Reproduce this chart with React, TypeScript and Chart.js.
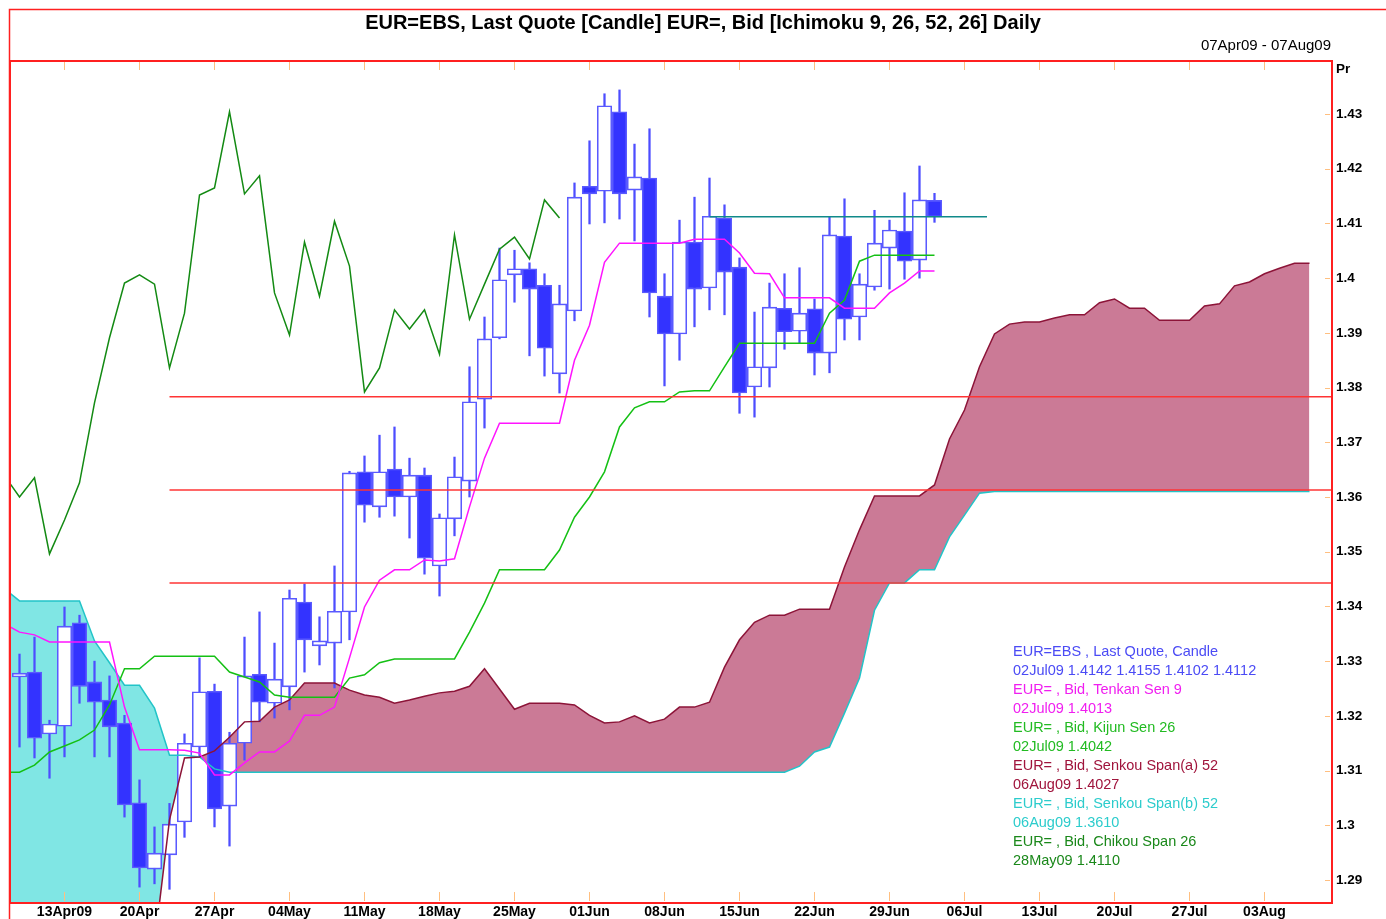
import React, { useEffect, useRef } from "react";
import { Chart, registerables } from "chart.js";

Chart.register(...registerables);

const W = 1386;
const H = 919;
const FONT = '"Liberation Sans", Arial, sans-serif';

// ---- x axis (trading-day index, 0 = 07Apr09) ----
const xTickIdx = [4, 9, 14, 19, 24, 29, 34, 39, 44, 49, 54, 59, 64, 69, 74, 79, 84];
const xTickLabels = [
  "13Apr09", "20Apr", "27Apr", "04May", "11May", "18May", "25May", "01Jun",
  "08Jun", "15Jun", "22Jun", "29Jun", "06Jul", "13Jul", "20Jul", "27Jul", "03Aug",
];
const yTicks = [1.29, 1.3, 1.31, 1.32, 1.33, 1.34, 1.35, 1.36, 1.37, 1.38, 1.39, 1.4, 1.41, 1.42, 1.43];

// ---- candles (first candle at index 1 = 08Apr09) ----
const candleStart = 1;
const opens = [
  1.3271, 1.3280, 1.3167, 1.3181, 1.3370, 1.3262, 1.3229, 1.3187, 1.3041, 1.2920,
  1.2946, 1.3006, 1.3143, 1.3245, 1.3035, 1.3150, 1.3276, 1.3223, 1.3253, 1.3408,
  1.3328, 1.3333, 1.3390, 1.3646, 1.3582, 1.3651, 1.3600, 1.3640, 1.3474, 1.3560,
  1.3629, 1.3779, 1.3891, 1.4006, 1.4017, 1.3987, 1.3825, 1.3940, 1.4168, 1.4159,
  1.4304, 1.4161, 1.4183, 1.3967, 1.3898, 1.4066, 1.3982, 1.4110, 1.4020, 1.3801,
  1.3836, 1.3945, 1.3903, 1.3944, 1.3863, 1.4077, 1.3929, 1.3984, 1.4055, 1.4086,
  1.4033, 1.4142,
];
const highs = [
  1.3313, 1.3344, 1.3192, 1.3399, 1.3384, 1.3300, 1.3273, 1.3201, 1.3083, 1.2997,
  1.3040, 1.3167, 1.3306, 1.3258, 1.3170, 1.3344, 1.3390, 1.3333, 1.3430, 1.3441,
  1.3381, 1.3474, 1.3647, 1.3675, 1.3713, 1.3728, 1.3671, 1.3653, 1.3569, 1.3673,
  1.3838, 1.3929, 1.4055, 1.4051, 1.4028, 1.4008, 1.3987, 1.4174, 1.4251, 1.4337,
  1.4344, 1.4245, 1.4273, 1.4008, 1.4106, 1.4148, 1.4183, 1.4134, 1.4037, 1.3938,
  1.3991, 1.4008, 1.4019, 1.3962, 1.4112, 1.4145, 1.4008, 1.4124, 1.4106, 1.4156,
  1.4205, 1.4155,
];
const lows = [
  1.3143, 1.3123, 1.3086, 1.3125, 1.3223, 1.3125, 1.3125, 1.3015, 1.2887, 1.2893,
  1.2883, 1.2978, 1.3125, 1.2997, 1.2962, 1.3119, 1.3189, 1.3196, 1.3211, 1.3280,
  1.3293, 1.3251, 1.3339, 1.3554, 1.3563, 1.3565, 1.3525, 1.3459, 1.3419, 1.3529,
  1.3600, 1.3726, 1.3889, 1.3956, 1.3858, 1.3821, 1.3790, 1.3922, 1.4099, 1.4101,
  1.4108, 1.4068, 1.3929, 1.3803, 1.3850, 1.3911, 1.3942, 1.3933, 1.3753, 1.3746,
  1.3801, 1.3870, 1.3881, 1.3823, 1.3827, 1.3887, 1.3887, 1.3978, 1.3980, 1.3998,
  1.4000, 1.4102,
];
const closes = [
  1.3278, 1.3159, 1.3185, 1.3364, 1.3254, 1.3225, 1.3180, 1.3037, 1.2922, 1.2949,
  1.3002, 1.3150, 1.3244, 1.3030, 1.3150, 1.3273, 1.3225, 1.3267, 1.3415, 1.3339,
  1.3337, 1.3391, 1.3644, 1.3585, 1.3646, 1.3600, 1.3640, 1.3488, 1.3562, 1.3637,
  1.3774, 1.3889, 1.3997, 1.4017, 1.3980, 1.3872, 1.3953, 1.4148, 1.4154, 1.4315,
  1.4154, 1.4185, 1.3973, 1.3898, 1.4066, 1.3980, 1.4113, 1.4011, 1.3790, 1.3838,
  1.3947, 1.3902, 1.3936, 1.3863, 1.4079, 1.3925, 1.3989, 1.4064, 1.4088, 1.4031,
  1.4143, 1.4112,
];

// ---- Ichimoku lines (index 0 = 07Apr09) ----
const tenkan = [
  1.3368, 1.3353, 1.3348, 1.3335, 1.3335, 1.3335, 1.3335, 1.3335, 1.3216, 1.3138,
  1.3138, 1.3138, 1.3137, 1.3132, 1.3092, 1.3092, 1.3114, 1.3134, 1.3134, 1.3154,
  1.3201, 1.3201, 1.3216, 1.3306, 1.3399, 1.3448, 1.3467, 1.3467, 1.3485, 1.3483,
  1.3487, 1.3582, 1.3671, 1.3735, 1.3735, 1.3735, 1.3735, 1.3735, 1.3850, 1.3914,
  1.4029, 1.4064, 1.4064, 1.4064, 1.4064, 1.4064, 1.4071, 1.4071, 1.4071, 1.4046,
  1.4009, 1.4008, 1.3964, 1.3964, 1.3964, 1.3964, 1.3945, 1.3945, 1.3945, 1.3973,
  1.3991, 1.4013, 1.4013,
];
const kijun = [
  1.3097, 1.3097, 1.3110, 1.3134, 1.3145, 1.3156, 1.3174, 1.3220, 1.3286, 1.3286,
  1.3309, 1.3309, 1.3309, 1.3309, 1.3309, 1.3280, 1.3271, 1.3262, 1.3238, 1.3234,
  1.3234, 1.3234, 1.3234, 1.3269, 1.3275, 1.3297, 1.3304, 1.3304, 1.3304, 1.3304,
  1.3304, 1.3353, 1.3406, 1.3467, 1.3467, 1.3467, 1.3467, 1.3503, 1.3563, 1.3600,
  1.3646, 1.3728, 1.3763, 1.3774, 1.3774, 1.3792, 1.3794, 1.3794, 1.3838, 1.3881,
  1.3881, 1.3881, 1.3881, 1.3881, 1.3881, 1.3936, 1.3960, 1.4031, 1.4042, 1.4042,
  1.4042, 1.4042, 1.4042,
];
const senkouA = [
  1.2750, 1.2750, 1.2750, 1.2750, 1.2750, 1.2750, 1.2750, 1.2750, 1.2750, 1.2750,
  1.2782, 1.3010, 1.3123, 1.3125, 1.3136, 1.3161, 1.3189, 1.3190, 1.3216, 1.3229,
  1.3260, 1.3260, 1.3260, 1.3247, 1.3238, 1.3234, 1.3223, 1.3229, 1.3236, 1.3242,
  1.3245, 1.3254, 1.3286, 1.3249, 1.3212, 1.3223, 1.3223, 1.3223, 1.3220, 1.3201,
  1.3187, 1.3189, 1.3200, 1.3187, 1.3194, 1.3216, 1.3216, 1.3225, 1.3289, 1.3339,
  1.3371, 1.3384, 1.3384, 1.3395, 1.3395, 1.3395, 1.3472, 1.3540, 1.3602, 1.3602,
  1.3602, 1.3602, 1.3622, 1.3706, 1.3759, 1.3838, 1.3898, 1.3916, 1.3920, 1.3920,
  1.3927, 1.3933, 1.3933, 1.3955, 1.3962, 1.3945, 1.3945, 1.3923, 1.3923, 1.3923,
  1.3949, 1.3953, 1.3986, 1.3993, 1.4008, 1.4018, 1.4027, 1.4027,
];
const senkouB = [
  1.3432, 1.3410, 1.3410, 1.3410, 1.3410, 1.3410, 1.3337, 1.3297, 1.3256, 1.3256,
  1.3214, 1.3128, 1.3128, 1.3125, 1.3103, 1.3097, 1.3097, 1.3097, 1.3097, 1.3097,
  1.3097, 1.3097, 1.3097, 1.3097, 1.3097, 1.3097, 1.3097, 1.3097, 1.3097, 1.3097,
  1.3097, 1.3097, 1.3097, 1.3097, 1.3097, 1.3097, 1.3097, 1.3097, 1.3097, 1.3097,
  1.3097, 1.3097, 1.3097, 1.3097, 1.3097, 1.3097, 1.3097, 1.3097, 1.3097, 1.3097,
  1.3097, 1.3097, 1.3097, 1.3108, 1.3134, 1.3143, 1.3205, 1.3269, 1.3393, 1.3443,
  1.3443, 1.3467, 1.3467, 1.3527, 1.3567, 1.3607, 1.3610, 1.3610, 1.3610, 1.3610,
  1.3610, 1.3610, 1.3610, 1.3610, 1.3610, 1.3610, 1.3610, 1.3610, 1.3610, 1.3610,
  1.3610, 1.3610, 1.3610, 1.3610, 1.3610, 1.3610, 1.3610, 1.3610,
];
const chikou = [
  1.3639, 1.3600, 1.3635, 1.3496, 1.3558, 1.3626, 1.3772, 1.3891, 1.3991, 1.4006,
  1.3989, 1.3836, 1.3936, 1.4152, 1.4165, 1.4304, 1.4154, 1.4187, 1.3973, 1.3896,
  1.4066, 1.3967, 1.4104, 1.4022, 1.3792, 1.3836, 1.3942, 1.3907, 1.3942, 1.3861,
  1.4079, 1.3925, 1.3989, 1.4053, 1.4075, 1.4035, 1.4143, 1.4110,
];

// ---- horizontal annotation lines ----
const levelValues = [1.3783, 1.3613, 1.3443];
const levelFrom = 11;
const lastPrice = 1.4112;
const lastPriceFrom = 47;
const lastPriceTo = 65.5;

const legendLines: [string, string][] = [
  ["EUR=EBS , Last Quote, Candle", "#4b4bf5"],
  ["02Jul09 1.4142 1.4155 1.4102 1.4112", "#4b4bf5"],
  ["EUR= , Bid, Tenkan Sen 9", "#f01ef0"],
  ["02Jul09 1.4013", "#f01ef0"],
  ["EUR= , Bid, Kijun Sen 26", "#22bb22"],
  ["02Jul09 1.4042", "#22bb22"],
  ["EUR= , Bid, Senkou Span(a) 52", "#a0143c"],
  ["06Aug09 1.4027", "#a0143c"],
  ["EUR= , Bid, Senkou Span(b) 52", "#2ccccc"],
  ["06Aug09 1.3610", "#2ccccc"],
  ["EUR= , Bid, Chikou Span 26", "#1a881a"],
  ["28May09 1.4110", "#1a881a"],
];

const X_MIN = 0.3667;
const X_MAX = 88.5;
const Y_MIN = 1.285796;
const Y_MAX = 1.439687;

const series = (arr: number[], start = 0) => arr.map((v, i) => ({ x: start + i, y: v }));

const decorPlugin = {
  id: "decor",
  beforeDraw(chart: any) {
    const ctx = chart.ctx;
    ctx.save();
    ctx.fillStyle = "#ffffff";
    ctx.fillRect(0, 0, chart.width, chart.height);
    ctx.restore();
  },
  afterDraw(chart: any) {
    const ctx = chart.ctx;
    const a = chart.chartArea;
    const xs = chart.scales.x;
    const ys = chart.scales.y;
    ctx.save();
    // orange tick marks inside the plot
    ctx.strokeStyle = "#ffbf80";
    ctx.lineWidth = 1;
    xTickIdx.forEach((v) => {
      const px = Math.round(xs.getPixelForValue(v)) + 0.5;
      ctx.beginPath();
      ctx.moveTo(px, a.top);
      ctx.lineTo(px, a.top + 9);
      ctx.moveTo(px, a.bottom - 11);
      ctx.lineTo(px, a.bottom - 2);
      ctx.stroke();
    });
    yTicks.forEach((v) => {
      const py = Math.round(ys.getPixelForValue(v)) + 0.5;
      ctx.beginPath();
      ctx.moveTo(a.right - 7, py);
      ctx.lineTo(a.right - 2, py);
      ctx.stroke();
    });
    // frames
    ctx.strokeStyle = "#ff2020";
    ctx.lineWidth = 1.5;
    ctx.beginPath();
    ctx.moveTo(9.5, H);
    ctx.lineTo(9.5, 9.5);
    ctx.lineTo(W, 9.5);
    ctx.stroke();
    ctx.lineWidth = 2;
    ctx.strokeRect(a.left, a.top, a.right - a.left, a.bottom - a.top);
    // title
    ctx.fillStyle = "#000";
    ctx.textBaseline = "middle";
    ctx.textAlign = "center";
    ctx.font = `bold 20px ${FONT}`;
    ctx.fillText("EUR=EBS, Last Quote [Candle] EUR=, Bid [Ichimoku 9, 26, 52, 26] Daily", 703, 23);
    ctx.textAlign = "right";
    ctx.font = `15px ${FONT}`;
    ctx.fillText("07Apr09 - 07Aug09", 1331, 46);
    ctx.textAlign = "left";
    ctx.font = `bold 13.5px ${FONT}`;
    ctx.fillText("Pr", 1336, 69);
    // legend text
    ctx.font = `14.5px ${FONT}`;
    legendLines.forEach(([t, c], i) => {
      ctx.fillStyle = c;
      ctx.fillText(t, 1013, 652 + i * 19);
    });
    ctx.restore();
  },
};

export default function App() {
  const ref = useRef<HTMLCanvasElement | null>(null);

  useEffect(() => {
    if (!ref.current) return;
    const idx = opens.map((_, k) => candleStart + k);
    const bodyData = idx.map((x, k) => ({ x, y: [Math.min(opens[k], closes[k]), Math.max(opens[k], closes[k])] }));
    const wickData = idx.map((x, k) => ({ x, y: [lows[k], highs[k]] }));
    const bodyFill = idx.map((_, k) => (closes[k] < opens[k] ? "#3333ff" : "#ffffff"));

    const lineBase = { type: "line" as const, pointRadius: 0, borderWidth: 1.5, fill: false, tension: 0 };

    const datasets: any[] = [
      { ...lineBase, label: "Senkou B", data: series(senkouB), borderColor: "#22c4c8", order: 6 },
      {
        ...lineBase,
        label: "Senkou A",
        data: series(senkouA),
        borderColor: "#8c1438",
        fill: { target: 0, above: "#cb7a96", below: "#80e6e4" },
        order: 5,
      },
      {
        type: "bar",
        label: "wick",
        data: wickData,
        backgroundColor: "#4d4dff",
        borderWidth: 0,
        barThickness: 1.6,
        grouped: false,
        order: 9,
      },
      {
        type: "bar",
        label: "body",
        data: bodyData,
        backgroundColor: bodyFill,
        borderColor: "#5a5aff",
        borderWidth: 1.6,
        borderSkipped: false,
        barThickness: 14.5,
        grouped: false,
        order: 8,
      },
      { ...lineBase, label: "Kijun", data: series(kijun), borderColor: "#14c014", order: 4 },
      { ...lineBase, label: "Tenkan", data: series(tenkan), borderColor: "#ff14ff", order: 3 },
      { ...lineBase, label: "Chikou", data: series(chikou), borderColor: "#138a13", order: 2 },
      ...levelValues.map((v) => ({
        ...lineBase,
        label: "level",
        data: [{ x: levelFrom, y: v }, { x: X_MAX, y: v }],
        borderColor: "#ff3434",
        order: 1,
      })),
      {
        ...lineBase,
        label: "last",
        data: [{ x: lastPriceFrom, y: lastPrice }, { x: lastPriceTo, y: lastPrice }],
        borderColor: "#108a8a",
        order: 1,
      },
    ];

    const chart = new Chart(ref.current, {
      type: "line",
      data: { datasets },
      plugins: [decorPlugin],
      options: {
        animation: false,
        responsive: false,
        devicePixelRatio: 1,
        events: [],
        layout: { padding: { left: 10, top: 61, right: 0, bottom: 0 } },
        plugins: {
          legend: { display: false },
          tooltip: { enabled: false },
          title: { display: false },
          filler: { drawTime: "beforeDatasetsDraw" },
        } as any,
        scales: {
          x: {
            type: "linear",
            min: X_MIN,
            max: X_MAX,
            offset: false,
            grid: { display: false, drawTicks: false },
            border: { display: false },
            afterBuildTicks: (s: any) => {
              s.ticks = xTickIdx.map((v) => ({ value: v }));
            },
            afterFit: (s: any) => {
              s.height = 16;
            },
            ticks: {
              autoSkip: false,
              maxRotation: 0,
              padding: 1,
              color: "#000",
              font: { family: FONT, size: 14, weight: "bold" },
              callback: (_v: any, i: number) => xTickLabels[i],
            },
          },
          y: {
            type: "linear",
            position: "right",
            min: Y_MIN,
            max: Y_MAX,
            beginAtZero: false,
            grid: { display: false, drawTicks: false },
            border: { display: false },
            afterBuildTicks: (s: any) => {
              s.ticks = yTicks.map((v) => ({ value: v }));
            },
            afterFit: (s: any) => {
              s.width = 54;
            },
            ticks: {
              autoSkip: false,
              padding: 4,
              color: "#000",
              font: { family: FONT, size: 13.5, weight: "bold" },
              callback: (v: any) => String(Number(Number(v).toFixed(2))),
            },
          },
        },
      } as any,
    });
    return () => chart.destroy();
  }, []);

  return (
    <div style={{ position: "fixed", left: 0, top: 0, width: W, height: H, background: "#fff" }}>
      <canvas ref={ref} width={W} height={H} style={{ display: "block", width: W, height: H }} />
    </div>
  );
}
